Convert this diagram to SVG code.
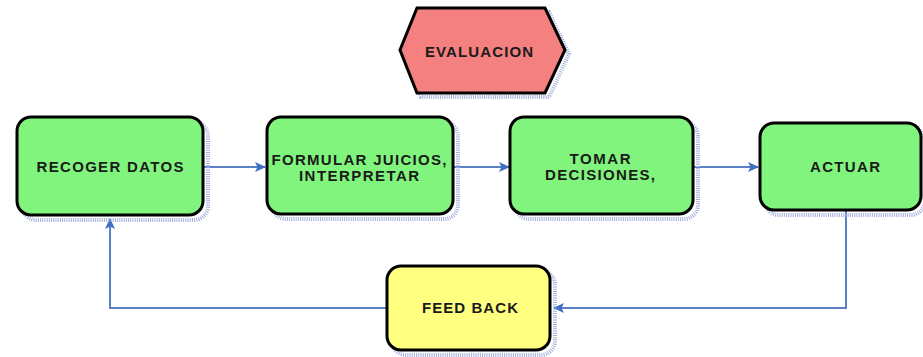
<svg xmlns="http://www.w3.org/2000/svg" width="923" height="357" viewBox="0 0 923 357">
<defs>
<style>
.box{stroke:#000;stroke-width:3}
.green{fill:#80F47C}
.yellow{fill:#FFFF80}
.red{fill:#F48080}
.shadow{fill:none;stroke:#A0AEDC;stroke-width:4;stroke-dasharray:1 1.2}
.lbl{font-family:"Liberation Sans",Arial,sans-serif;font-size:15px;font-weight:bold;fill:#1a1a1a;text-anchor:middle}
.conn{fill:none;stroke:#5B80C8;stroke-width:2}
</style>
<marker id="ah" markerWidth="12" markerHeight="10" refX="10" refY="5" orient="auto" markerUnits="userSpaceOnUse">
<path d="M0,0 L11,5 L0,10 L2.5,5 Z" fill="#3F6FC4"/>
</marker>
</defs>
<rect width="923" height="357" fill="#fff"/>
<g id="connectors">
<line class="conn" x1="204" y1="167" x2="265" y2="167" marker-end="url(#ah)"/>
<line class="conn" x1="454" y1="167" x2="509" y2="167" marker-end="url(#ah)"/>
<line class="conn" x1="694" y1="167" x2="758" y2="167" marker-end="url(#ah)"/>
<polyline class="conn" points="846,211 846,308 554,308" marker-end="url(#ah)"/>
<polyline class="conn" points="386,308 110,308 110,219" marker-end="url(#ah)"/>
</g>
<g id="evaluacion">
<polygon class="shadow" points="421,12 549,12 569,54 549,97 421,97 404,54"/>
<polygon class="box red" points="417,8 545,8 565,50 545,93 417,93 400,50"/>
<text class="lbl" x="479" y="57" textLength="108" lengthAdjust="spacing">EVALUACION</text>
</g>
<g id="recoger">
<rect class="shadow" x="22" y="122" width="186" height="98" rx="14"/>
<rect class="box green" x="17" y="117" width="186" height="98" rx="14"/>
<text class="lbl" x="110" y="172" textLength="147" lengthAdjust="spacing">RECOGER DATOS</text>
</g>
<g id="formular">
<rect class="shadow" x="272" y="122" width="186" height="97" rx="14"/>
<rect class="box green" x="267" y="117" width="186" height="97" rx="14"/>
<text class="lbl" x="359" y="165" textLength="175" lengthAdjust="spacing">FORMULAR JUICIOS,</text>
<text class="lbl" x="359" y="181" textLength="120" lengthAdjust="spacing">INTERPRETAR</text>
</g>
<g id="tomar">
<rect class="shadow" x="515" y="122" width="183" height="97" rx="14"/>
<rect class="box green" x="510" y="117" width="183" height="97" rx="14"/>
<text class="lbl" x="600" y="164" textLength="61" lengthAdjust="spacing">TOMAR</text>
<text class="lbl" x="600" y="180" textLength="110" lengthAdjust="spacing">DECISIONES,</text>
</g>
<g id="actuar">
<rect class="shadow" x="765" y="128" width="160" height="87" rx="14"/>
<rect class="box green" x="760" y="123" width="161" height="87" rx="14"/>
<text class="lbl" x="845" y="172" textLength="70" lengthAdjust="spacing">ACTUAR</text>
</g>
<g id="feedback">
<rect class="shadow" x="392" y="271" width="163" height="84" rx="14"/>
<rect class="box yellow" x="387" y="266" width="163" height="84" rx="14"/>
<text class="lbl" x="470" y="313" textLength="96" lengthAdjust="spacing">FEED BACK</text>
</g>
</svg>
